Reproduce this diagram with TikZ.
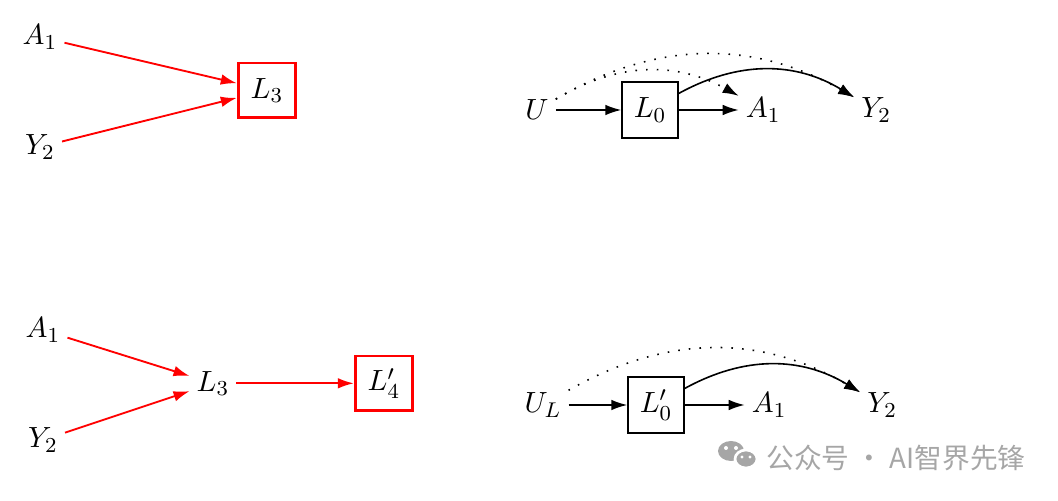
\documentclass[tikz,border=0pt,11pt]{standalone}
\usepackage{amsmath}
\usepackage{fontspec}
\newfontfamily\cjkfont{Noto Sans CJK SC}
\usetikzlibrary{positioning, arrows.meta}

\begin{document}
\begin{tikzpicture}
  [
    x=0.375pt, y=-0.375pt,
    on grid,
    node distance=42.4pt,
    var/.style={inner sep=2.5pt},
    block/.style={draw, rectangle, minimum width=21pt, minimum height=21pt, inner sep=1pt, line width=0.6pt},
    redblock/.style={draw=red, rectangle, minimum width=21.5pt, minimum height=20.5pt, inner sep=1pt, line width=1.1pt},
    redarrow/.style={-{Latex[length=6pt, width=4pt]}, red, line width=0.7pt},
    arrow/.style={-{Latex[length=6pt, width=4pt]}, line width=0.6pt},
    dotline/.style={dash pattern=on 0.6pt off 3.4pt}
  ]
    \useasboundingbox (0,0) rectangle (1058,501);
    % =========================================================================
    % NODES
    % =========================================================================
    % --- TOP LEFT ---
    \node [var] (a1) at (40,37) {$A_1$};
    \node [var, below=41.25pt of a1] (y2) {$Y_2$};
    \node [redblock, below right=20pt and 85.1pt of a1] (l3) {$L_3$};

    % --- BOTTOM LEFT ---
    \node [var] (a1b) at (43,330) {$A_1$};
    \node [var, below=41.25pt of a1b] (y2b) {$Y_2$};
    \node [var, below right=20pt and 63.75pt of a1b] (l3b) {$L_3$};
    \node [redblock, right=64.1pt of l3b] (l4) {$L_4'$};

    % --- TOP RIGHT ---
    \node [var] (u) at (537,110) {$U$};
    \node [block, right=of u] (l0) {$L_0$};
    \node [var, right=of l0] (a1c) {$A_1$};
    \node [var, right=of a1c] (y2c) {$Y_2$};

    % --- BOTTOM RIGHT ---
    \node [var] (ul) at (543,405) {$U_L$};
    \node [block, right=of ul] (l0p) {$L_0'$};
    \node [var, right=of l0p] (a1d) {$A_1$};
    \node [var, right=of a1d] (y2d) {$Y_2$};

    % --- MARK ---
    \fill [black!35] (731,451) ellipse [x radius=13, y radius=10];
    \fill [white] (726,448) circle [radius=2] (736,448) circle [radius=2];
    \filldraw [fill=black!35, draw=white, line width=1pt] (746,459) ellipse [x radius=11, y radius=9];
    \fill [white] (742,457) circle [radius=1.6] (750,457) circle [radius=1.6];
    \node [text=black!35, font=\cjkfont\fontsize{10.4pt}{12pt}\selectfont] (mark) at (896,458) {公众号 · AI智界先锋};

    % =========================================================================
    % PATHS
    % =========================================================================
    % --- RED ---
    \draw [redarrow] (a1) -- (l3);
    \draw [redarrow] (y2) -- (l3);
    \draw [redarrow] (a1b) -- (l3b);
    \draw [redarrow] (y2b) -- (l3b);
    \draw [redarrow] (l3b.east) -- (l4.west);
    % --- BLACK ---
    \draw [arrow] (u.east) -- (l0.west);
    \draw [arrow] (l0.east) -- (a1c.west);
    \draw [arrow] (l0) to [bend left=30] (y2c);
    \draw [arrow, dotline] (u) to [bend left=30] (a1c);
    \draw [arrow, dotline] (u) to [bend left=30] (y2c);
    \draw [arrow] (ul.east) -- (l0p.west);
    \draw [arrow] (l0p.east) -- (a1d.west);
    \draw [arrow] (l0p) to [bend left=30] (y2d);
    \draw [arrow, dotline] (ul) to [bend left=30] (y2d);

  \end{tikzpicture}
\end{document}
